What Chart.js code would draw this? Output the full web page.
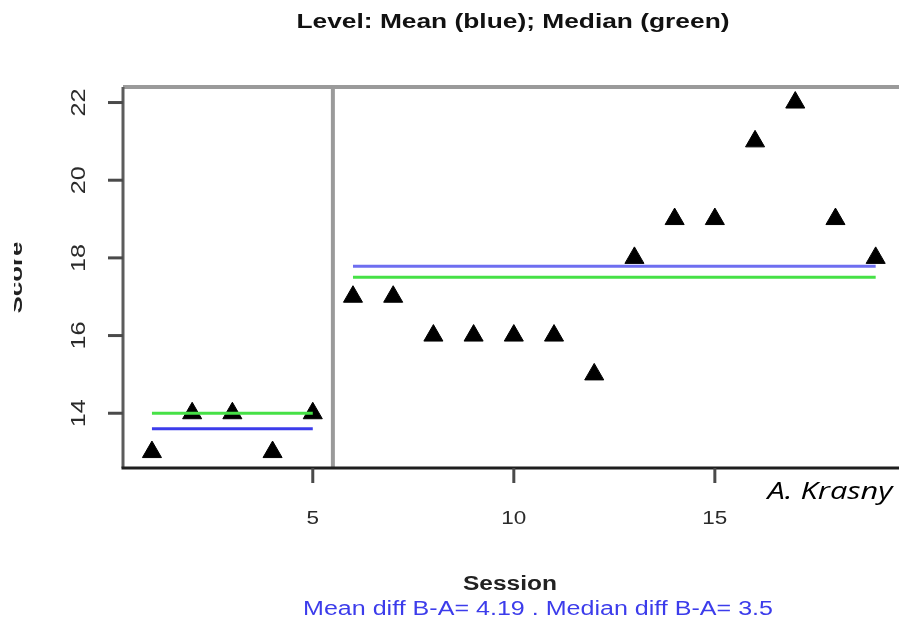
<!DOCTYPE html>
<html>
<head>
<meta charset="utf-8">
<script src="https://cdn.jsdelivr.net/npm/chart.js@4.4.1/dist/chart.umd.min.js"></script>
<style>
  html, body { margin: 0; padding: 0; background: #fff; }
  #wrap { position: relative; width: 899px; height: 625px; overflow: hidden; }
</style>
</head>
<body>
<div id="wrap">
  <canvas id="plot" width="899" height="625"></canvas>
</div>
<script>
// sessions and scores, baseline (A) = sessions 1-5, treatment (B) = 6-19
const sessions = [1, 2, 3, 4, 5, 6, 7, 8, 9, 10, 11, 12, 13, 14, 15, 16, 17, 18, 19];
const scores = [13, 14, 14, 13, 14, 17, 17, 16, 16, 16, 16, 15, 18, 19, 19, 21, 22, 19, 18];
const phaseEnd = 5;          // last session of phase A
const xTicks = [5, 10, 15];
const yTicks = [14, 16, 18, 20, 22];

const titleText = "Level: Mean (blue); Median (green)";
const xLabel = "Session";
const yLabel = "Score";
const author = "A. Krasny";

const mean = (a) => a.reduce((s, v) => s + v, 0) / a.length;
const median = (a) => {
  const s = [...a].sort((p, q) => p - q);
  const m = Math.floor(s.length / 2);
  return s.length % 2 ? s[m] : (s[m - 1] + s[m]) / 2;
};

const sessA = sessions.filter((s) => s <= phaseEnd);
const sessB = sessions.filter((s) => s > phaseEnd);
const scoreA = scores.slice(0, sessA.length);
const scoreB = scores.slice(sessA.length);

const meanA = mean(scoreA), meanB = mean(scoreB);
const medA = median(scoreA), medB = median(scoreB);
const diffText = "Mean diff B-A= " + (Math.round((meanB - meanA) * 100) / 100) +
  " . Median diff B-A= " + (medB - medA);

const BLUE = "rgb(60, 60, 235)";
const GREEN = "rgb(70, 225, 70)";
const FONT = "'Liberation Sans', Arial, sans-serif";

function segment(xs, v) {
  return [{ x: xs[0], y: v }, { x: xs[xs.length - 1], y: v }];
}

// text stretched to a given width around (cx, cy)
function fitText(ctx, text, cx, cy, font, color, width, rot, baseline) {
  ctx.save();
  ctx.font = font;
  ctx.fillStyle = color;
  ctx.textAlign = "center";
  ctx.textBaseline = baseline || "middle";
  const w = ctx.measureText(text).width;
  ctx.translate(cx, cy);
  if (rot) ctx.rotate(rot);
  ctx.scale(width ? width / w : 1, 1);
  ctx.fillText(text, 0, 0);
  ctx.restore();
}

const frame = {
  id: "frame",
  beforeDatasetsDraw(chart) {
    const { ctx, chartArea: a, scales: { x } } = chart;
    ctx.save();
    // phase change line
    const px = x.getPixelForValue(phaseEnd + 0.5);
    ctx.strokeStyle = "#9a9a9a";
    ctx.lineWidth = 4;
    ctx.beginPath();
    ctx.moveTo(px, a.top);
    ctx.lineTo(px, a.bottom);
    ctx.stroke();
    ctx.restore();
  },
  afterDraw(chart) {
    const { ctx, chartArea: a, scales: { x, y } } = chart;
    ctx.save();
    // box
    ctx.lineCap = "butt";
    ctx.strokeStyle = "#9a9a9a";
    ctx.lineWidth = 4;
    ctx.beginPath();
    ctx.moveTo(a.left, a.top);
    ctx.lineTo(a.right, a.top);
    ctx.stroke();
    ctx.strokeStyle = "#5c5c5c";
    ctx.lineWidth = 3;
    ctx.beginPath();
    ctx.moveTo(a.left, a.top);
    ctx.lineTo(a.left, a.bottom);
    ctx.stroke();
    ctx.strokeStyle = "#1e1e1e";
    ctx.beginPath();
    ctx.moveTo(a.left - 1.5, a.bottom);
    ctx.lineTo(a.right, a.bottom);
    ctx.stroke();

    // ticks and tick labels
    ctx.strokeStyle = "#4a4a4a";
    ctx.lineWidth = 3;
    yTicks.forEach((t) => {
      const py = y.getPixelForValue(t);
      ctx.beginPath();
      ctx.moveTo(a.left - 15, py);
      ctx.lineTo(a.left, py);
      ctx.stroke();
      fitText(ctx, String(t), 79, py, "20px " + FONT, "#2a2a2a", 28, -Math.PI / 2);
    });
    xTicks.forEach((t) => {
      const px = x.getPixelForValue(t);
      ctx.beginPath();
      ctx.moveTo(px, a.bottom);
      ctx.lineTo(px, a.bottom + 15);
      ctx.stroke();
      const w = String(t).length * 12.5;
      fitText(ctx, String(t), px, 519, "19px " + FONT, "#2a2a2a", w);
    });

    // titles
    fitText(ctx, titleText, 513, 22, "bold 20px " + FONT, "#111", 433);
    fitText(ctx, xLabel, 510, 584, "bold 20px " + FONT, "#222", 94);
    fitText(ctx, diffText, 538, 609, "20px " + FONT, BLUE, 470);
    fitText(ctx, author, 830, 499, "italic 23px 'Open Sans', Lato, sans-serif", "#000", 125, 0, "alphabetic");

    // y title sits mostly past the left edge, only its lower strip shows
    ctx.save();
    ctx.beginPath();
    ctx.rect(14, 0, 40, chart.height);
    ctx.clip();
    fitText(ctx, yLabel, 22, (a.top + a.bottom) / 2, "bold 19px " + FONT, "#222", 72, -Math.PI / 2, "alphabetic");
    ctx.restore();
    ctx.restore();
  }
};

const lineSet = (data, color) => ({
  type: "line",
  data: data,
  borderColor: color,
  borderWidth: 3,
  pointRadius: 0,
  fill: false,
  order: 1
});

new Chart(document.getElementById("plot"), {
  type: "scatter",
  data: {
    datasets: [
      {
        data: sessions.map((s, i) => ({ x: s, y: scores[i] })),
        pointStyle: "triangle",
        pointRadius: 11,
        backgroundColor: "#000",
        borderColor: "#000",
        borderWidth: 1,
        order: 2
      },
      lineSet(segment(sessA, meanA), BLUE),
      lineSet(segment(sessA, medA), GREEN),
      lineSet(segment(sessB, meanB), "rgb(110, 110, 240)"),
      lineSet(segment(sessB, medB), GREEN)
    ]
  },
  options: {
    responsive: false,
    animation: false,
    layout: { autoPadding: false, padding: { left: 123, top: 87, right: 0, bottom: 157 } },
    plugins: { legend: { display: false }, tooltip: { enabled: false } },
    scales: {
      x: { type: "linear", min: 0.28, max: 19.58, display: false },
      y: { type: "linear", min: 12.59, max: 22.4, display: false }
    }
  },
  plugins: [frame]
});
</script>
</body>
</html>
